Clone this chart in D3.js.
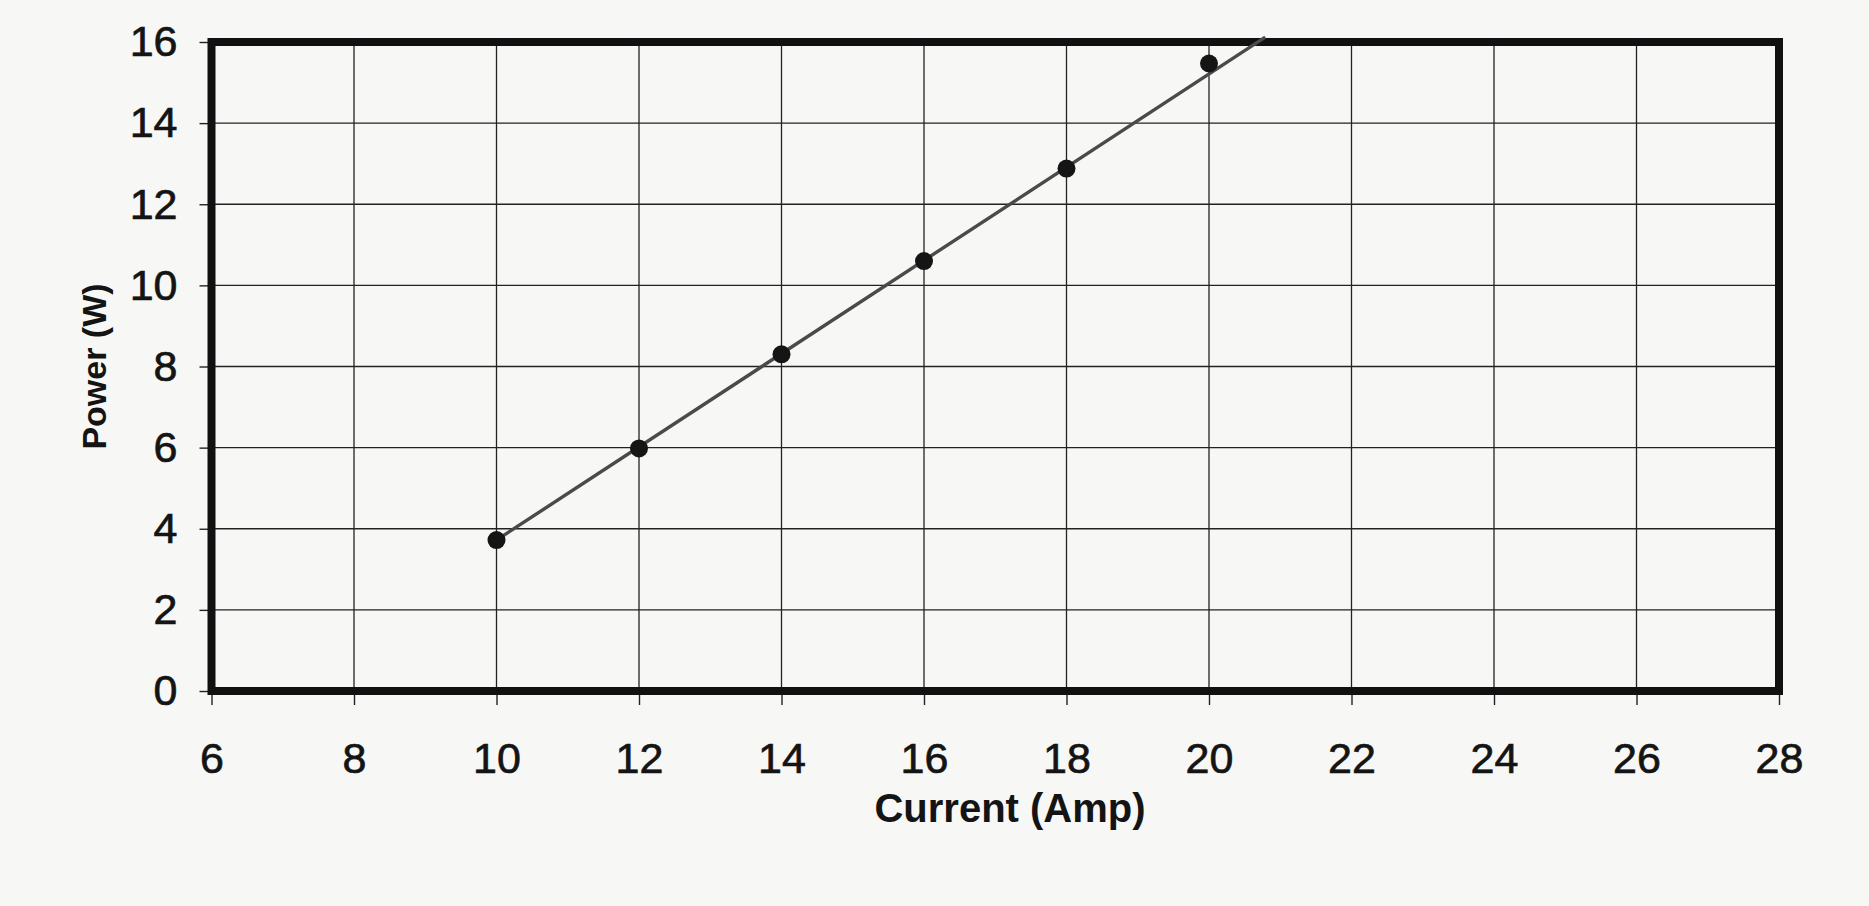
<!DOCTYPE html>
<html lang="en">
<head>
    <meta charset="UTF-8">
    <title>Power vs Current</title>
    <style>
        body {
            margin: 0;
            background: #f7f7f6;
        }
        svg text {
            font-family: "Liberation Sans", Arial, sans-serif;
            fill: #141414;
        }
        .axis text {
            stroke: #141414;
            stroke-width: 0.7;
        }
        .grid line {
            stroke: #222;
            stroke-width: 1.3;
        }
        .axis line {
            stroke: #222;
            stroke-width: 1.4;
        }
        .axis path {
            display: none;
        }
    </style>
</head>
<body>
    <div id="chart"></div>

    <script src="https://d3js.org/d3.v7.min.js"></script>
    <script>
        // values
        const current = [10, 12, 14, 16, 18, 20];
        const power = [3.72, 5.98, 8.3, 10.6, 12.88, 15.47];
        // straight fit line drawn through the points, ends at the top border
        const lineX = [10, 20.79];
        const lineY = [3.72, 16.12];
        const xTicks = [6, 8, 10, 12, 14, 16, 18, 20, 22, 24, 26, 28];
        const yTicks = [0, 2, 4, 6, 8, 10, 12, 14, 16];

        const width = 1869;
        const height = 906;
        const margin = { top: 42, right: 90, bottom: 215, left: 211.5 };
        const plotW = width - margin.left - margin.right;
        const plotH = height - margin.top - margin.bottom;

        const svg = d3.select("#chart").append("svg")
            .attr("width", width)
            .attr("height", height);

        const g = svg.append("g")
            .attr("transform", `translate(${margin.left},${margin.top})`);

        const x = d3.scaleLinear().domain([6, 28]).range([0, plotW]);
        const y = d3.scaleLinear().domain([0, 16]).range([plotH, 0]);

        // grid
        g.append("g").attr("class", "grid")
            .selectAll("line")
            .data(xTicks.slice(1, -1))
            .enter().append("line")
            .attr("x1", d => x(d)).attr("x2", d => x(d))
            .attr("y1", 0).attr("y2", plotH);

        g.append("g").attr("class", "grid")
            .selectAll("line")
            .data(yTicks.slice(1, -1))
            .enter().append("line")
            .attr("y1", d => y(d)).attr("y2", d => y(d))
            .attr("x1", 0).attr("x2", plotW);

        // axes
        const xAxis = g.append("g").attr("class", "axis")
            .attr("transform", `translate(0,${plotH})`)
            .call(d3.axisBottom(x).tickValues(xTicks).tickSize(14).tickPadding(37));
        xAxis.selectAll("text").style("font-size", "43px");

        const yAxis = g.append("g").attr("class", "axis")
            .call(d3.axisLeft(y).tickValues(yTicks).tickSize(12).tickPadding(22));
        yAxis.selectAll("text").style("font-size", "43px");

        // frame
        g.append("rect")
            .attr("x", 0).attr("y", 0)
            .attr("width", plotW).attr("height", plotH)
            .attr("fill", "none")
            .attr("stroke", "#111")
            .attr("stroke-width", 8);

        // fit line
        g.append("path")
            .datum(lineX.map((d, i) => [d, lineY[i]]))
            .attr("fill", "none")
            .attr("stroke", "#4a4a4a")
            .attr("stroke-width", 3.4)
            .attr("d", d3.line().x(d => x(d[0])).y(d => y(d[1])));

        // points
        g.selectAll(".dot")
            .data(current)
            .enter().append("circle")
            .attr("class", "dot")
            .attr("cx", d => x(d))
            .attr("cy", (d, i) => y(power[i]))
            .attr("r", 9)
            .attr("fill", "#151515");

        // axis titles
        svg.append("text")
            .attr("x", 1010)
            .attr("y", 822)
            .attr("text-anchor", "middle")
            .style("font-size", "40px")
            .style("font-weight", "bold")
            .text("Current (Amp)");

        svg.append("text")
            .attr("transform", `translate(106,${margin.top + plotH / 2}) rotate(-90)`)
            .attr("text-anchor", "middle")
            .style("font-size", "34px")
            .style("font-weight", "bold")
            .text("Power (W)");
    </script>
</body>
</html>
